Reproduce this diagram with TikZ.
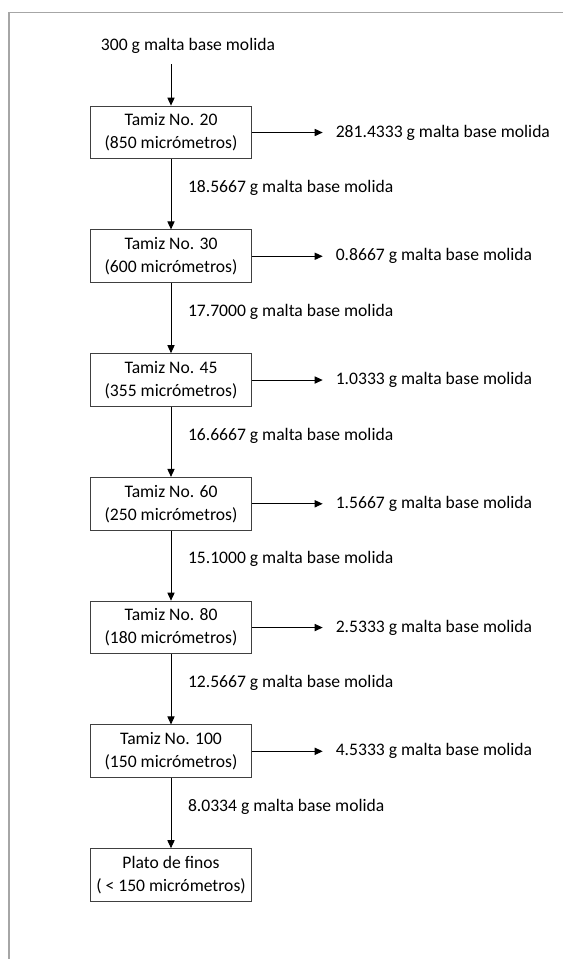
\documentclass[tikz,border=0pt]{standalone}
\usepackage{fontspec}
\setmainfont{Carlito}
\usetikzlibrary{arrows.meta,positioning}

\begin{document}
\begin{tikzpicture}[x=0.625pt, y=-0.625pt,
  tamiz/.style={draw=black!75, line width=0.6pt, align=center, minimum width=101pt, minimum height=33pt, inner sep=1pt},
  qty/.style={inner sep=2pt},
  flow/.style={->, line width=0.6pt},
  >={Triangle[length=5pt,width=4.5pt]}, font=\fontsize{11}{14.4}\selectfont,
  node distance=43.75pt and 50pt]
  \useasboundingbox (0,0) rectangle (563,959);
  % page frame
  \draw[gray!70, line width=0.9pt] (9,959) -- (9,12.5) -- (563,12.5);
  \node (in) at (188,46) {300 g malta base molida};
  \node[tamiz] (t20) at (171,132.5) {Tamiz No. 20\\(850 micrómetros)};
  \node[tamiz, below=of t20] (t30) {Tamiz No. 30\\(600 micrómetros)};
  \node[tamiz, below=of t30] (t45) {Tamiz No. 45\\(355 micrómetros)};
  \node[tamiz, below=of t45] (t60) {Tamiz No. 60\\(250 micrómetros)};
  \node[tamiz, below=of t60] (t80) {Tamiz No. 80\\(180 micrómetros)};
  \node[tamiz, below=of t80] (t100) {Tamiz No. 100\\(150 micrómetros)};
  \node[tamiz, below=of t100] (plato) {Plato de finos\\( < 150 micrómetros)};
  % retenido en cada tamiz
  \node[qty, right=of t20] (r20) {281.4333 g malta base molida};
  \node[qty, right=of t30] (r30) {0.8667 g malta base molida};
  \node[qty, right=of t45] (r45) {1.0333 g malta base molida};
  \node[qty, right=of t60] (r60) {1.5667 g malta base molida};
  \node[qty, right=of t80] (r80) {2.5333 g malta base molida};
  \node[qty, right=of t100] (r100) {4.5333 g malta base molida};
  \draw[flow, shorten <=3pt] (in.south -| t20.north) -- (t20);
  \draw[flow] (t20) -- (t30) node[midway,right=7pt,yshift=4pt]{18.5667 g malta base molida};
  \draw[flow] (t30) -- (t45) node[midway,right=7pt,yshift=4pt]{17.7000 g malta base molida};
  \draw[flow] (t45) -- (t60) node[midway,right=7pt,yshift=4pt]{16.6667 g malta base molida};
  \draw[flow] (t60) -- (t80) node[midway,right=7pt,yshift=4pt]{15.1000 g malta base molida};
  \draw[flow] (t80) -- (t100) node[midway,right=7pt,yshift=4pt]{12.5667 g malta base molida};
  \draw[flow] (t100) -- (plato) node[midway,right=7pt,yshift=4pt]{8.0334 g malta base molida};
  \draw[flow, shorten >=6pt] (t20) -- (r20);
  \draw[flow, shorten >=6pt] (t30) -- (r30);
  \draw[flow, shorten >=6pt] (t45) -- (r45);
  \draw[flow, shorten >=6pt] (t60) -- (r60);
  \draw[flow, shorten >=6pt] (t80) -- (r80);
  \draw[flow, shorten >=6pt] (t100) -- (r100);
\end{tikzpicture}
\end{document}
